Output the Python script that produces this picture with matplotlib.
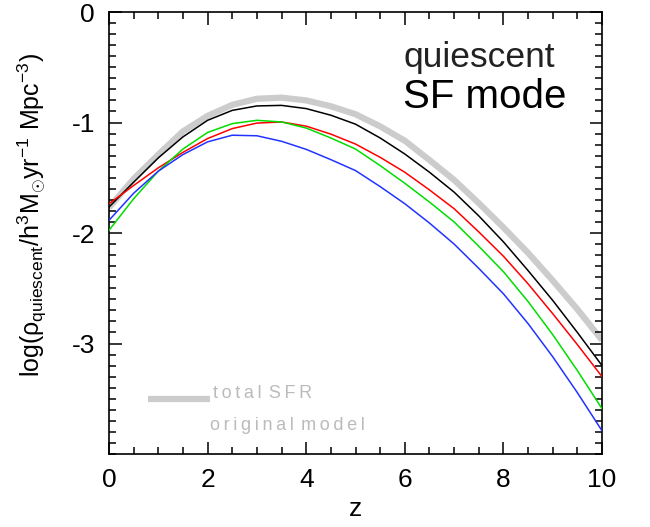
import matplotlib
matplotlib.use("Agg")
import matplotlib.pyplot as plt
from matplotlib.ticker import MultipleLocator
from matplotlib.lines import Line2D

z = [0, 0.5, 1, 1.5, 2, 2.5, 3, 3.5, 4, 4.5, 5, 5.5, 6, 6.5, 7, 7.5, 8, 8.5, 9, 9.5, 10]
total_sfr = [-1.77, -1.51, -1.29, -1.08, -0.94, -0.84, -0.785, -0.775, -0.80, -0.853, -0.925, -1.035,
             -1.165, -1.34, -1.52, -1.73, -1.95, -2.18, -2.43, -2.69, -2.97]
black = [-1.765, -1.54, -1.32, -1.13, -0.98, -0.89, -0.85, -0.845, -0.874, -0.934, -1.015, -1.14,
         -1.285, -1.45, -1.63, -1.845, -2.08, -2.34, -2.61, -2.90, -3.20]
red = [-1.735, -1.57, -1.41, -1.27, -1.145, -1.055, -1.005, -0.995, -1.033, -1.105, -1.195, -1.315,
       -1.45, -1.61, -1.78, -1.99, -2.21, -2.46, -2.73, -3.01, -3.30]
green = [-1.975, -1.69, -1.44, -1.24, -1.09, -1.01, -0.98, -0.995, -1.05, -1.14, -1.24, -1.39,
         -1.55, -1.72, -1.90, -2.12, -2.35, -2.62, -2.92, -3.245, -3.59]
blue = [-1.885, -1.64, -1.44, -1.29, -1.175, -1.115, -1.12, -1.17, -1.243, -1.336, -1.435, -1.58,
        -1.735, -1.91, -2.10, -2.32, -2.55, -2.82, -3.12, -3.445, -3.79]

x_ticks = [0, 2, 4, 6, 8, 10]
y_ticks = [0, -1, -2, -3]

plt.rcParams['font.family'] = ['Liberation Sans', 'DejaVu Sans']
plt.rcParams['axes.unicode_minus'] = False
plt.rcParams['mathtext.fontset'] = 'custom'
plt.rcParams['mathtext.rm'] = 'Liberation Sans'
plt.rcParams['mathtext.it'] = 'Liberation Sans'

fig = plt.figure(figsize=(6.5, 5.27), dpi=100)
ax = fig.add_axes([0.1677, 0.1385, 0.7585, 0.8387])

ax.plot(z, total_sfr, color='#cccccc', lw=4.5, solid_capstyle='butt', zorder=1)
ax.plot(z, black, color='black', lw=1.1, zorder=3)
ax.plot(z, red, color='#ff0000', lw=1.1, zorder=3)
ax.plot(z, green, color='#00dd00', lw=1.1, zorder=3)
ax.plot(z, blue, color='#2233ff', lw=1.1, zorder=3)

ax.set_xlim(0, 10)
ax.set_ylim(-4, 0)
ax.set_xticks(x_ticks)
ax.set_yticks(y_ticks)
ax.xaxis.set_minor_locator(MultipleLocator(0.5))
ax.yaxis.set_minor_locator(MultipleLocator(0.1))
ax.tick_params(which='both', direction='in', top=True, right=True, width=1.1, colors='black')
ax.tick_params(which='major', length=9, labelsize=19, pad=10)
ax.tick_params(which='minor', length=5)
for s in ax.spines.values():
    s.set_linewidth(1.2)

ax.set_xlabel('z', fontsize=19, labelpad=4)
ax.set_ylabel(r'log($\rho_{\mathrm{quiescent}}$/h$^{3}$M$_{\odot}$yr$^{-1}$ Mpc$^{-3}$)', fontsize=18)
ax.yaxis.set_label_coords(-0.122, 0.54)

ax.text(0.597, 0.896, 'quiescent', transform=ax.transAxes, fontsize=25.5, color='#222222', ha='left', va='center')
ax.text(0.597, 0.808, 'SF mode', transform=ax.transAxes, fontsize=29, color='black', ha='left', va='center')

ax.add_line(Line2D([0.08, 0.205], [0.125, 0.125], transform=ax.transAxes, color='#cccccc', lw=4.5,
                   solid_capstyle='butt'))
sp = '\u2009'
ax.text(0.21, 0.138, sp.join('total') + sp + sp + sp.join('SFR'), transform=ax.transAxes, fontsize=13,
        color='#bbbbbb', ha='left', va='center')
ax.text(0.205, 0.065, sp.join('original') + sp + sp + sp.join('model'), transform=ax.transAxes, fontsize=13,
        color='#bbbbbb', ha='left', va='center')

fig.savefig('out.png', dpi=100)
